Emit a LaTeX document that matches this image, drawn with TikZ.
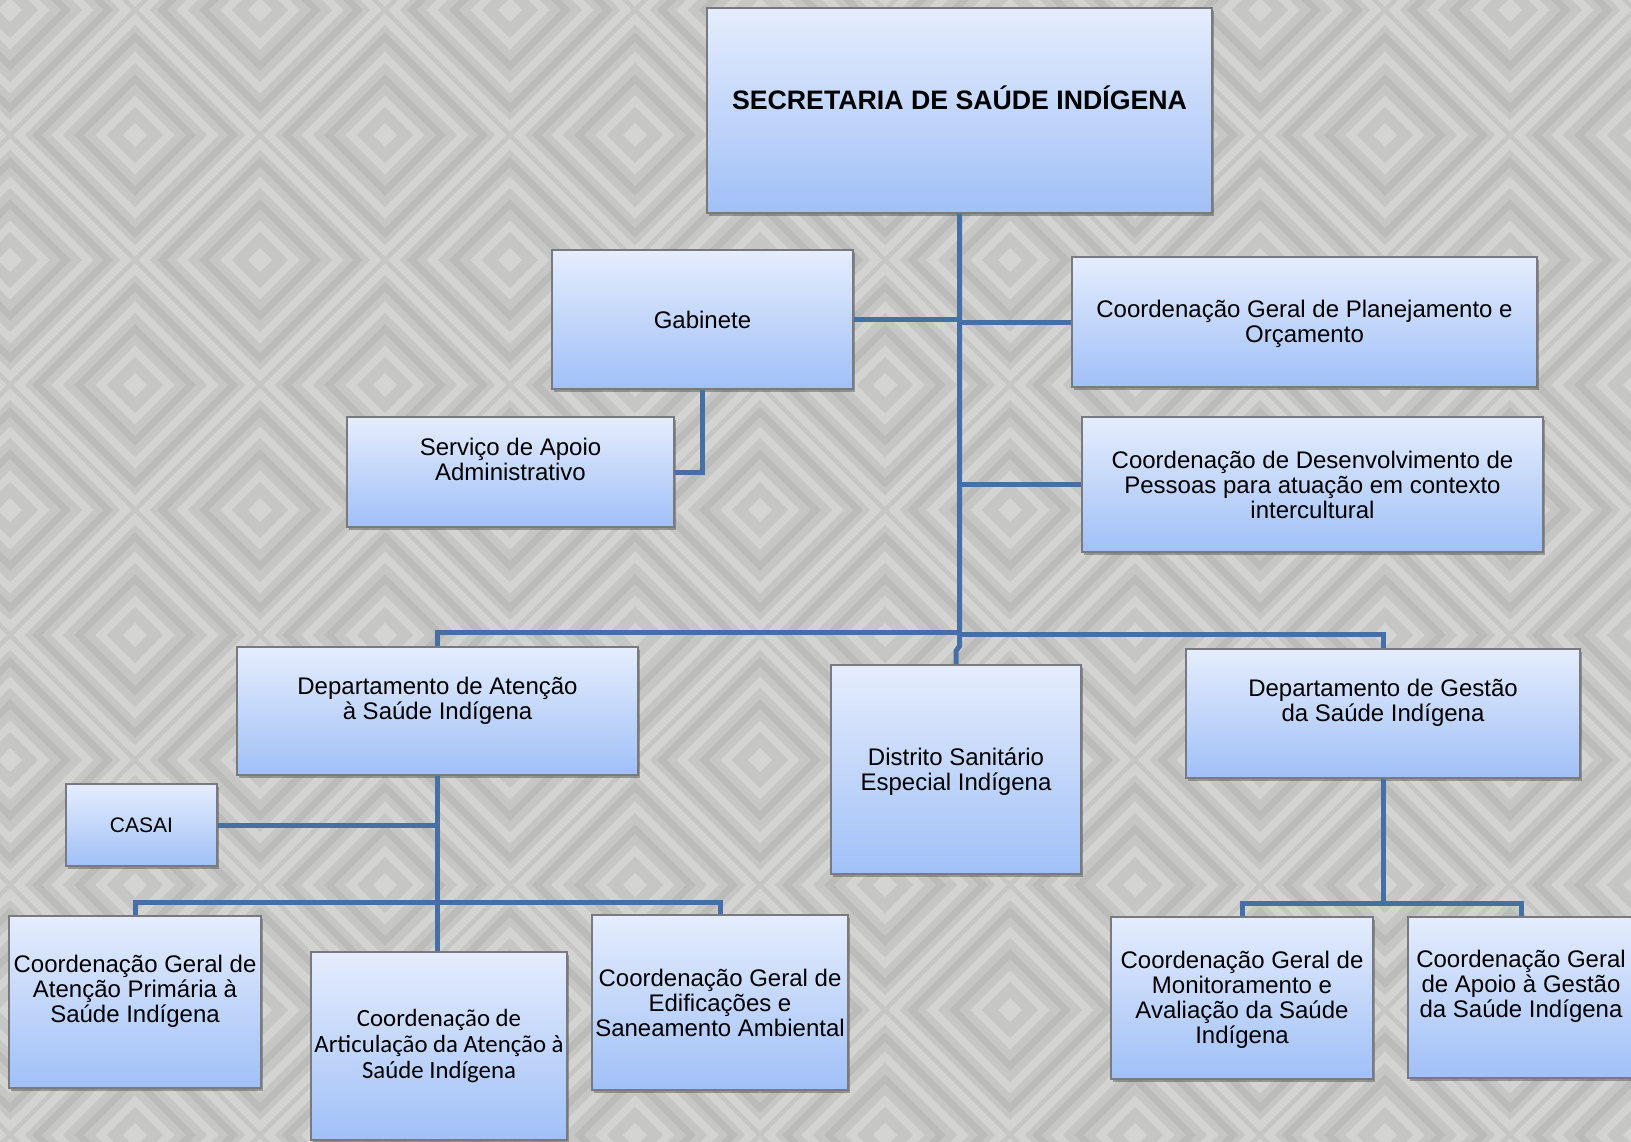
\documentclass[tikz,border=0pt]{standalone}
\usepackage{fontspec}
\setmainfont{Liberation Sans}
\newfontfamily\calib{Carlito}
\usetikzlibrary{shadows}
\definecolor{bg}{RGB}{198,198,196}
\definecolor{boxtop}{RGB}{229,237,253}
\definecolor{boxbot}{RGB}{160,192,247}
\definecolor{conn}{RGB}{70,112,165}
\definecolor{bord}{RGB}{120,122,128}
\tikzset{
  orgbox/.style 2 args={draw=bord, line width=1.6pt, top color=boxtop, bottom color=boxbot,
    minimum width=#1pt, minimum height=#2pt, inner sep=0pt,
    drop shadow={shadow xshift=2pt, shadow yshift=-3pt, opacity=.45, fill=black!70}},
  txt/.style={align=center, inner sep=0pt, text=black, font=\fontsize{24}{25}\selectfont},
  ttl/.style={align=center, inner sep=0pt, text=black, font=\bfseries\fontsize{26.7}{28}\selectfont},
  link/.style={draw=conn, line width=5pt, line join=miter},
  lite/.style={draw=white, opacity=.24, line width=8pt},
  dark/.style={draw=black, opacity=.05, line width=7pt}
}
\begin{document}
\begin{tikzpicture}[x=1pt,y=-1pt]
\useasboundingbox (0,0) rectangle (1631,1142);
\begin{scope}
\clip (0,0) rectangle (1631,1142);
\fill[bg] (0,0) rectangle (1631,1142);
\foreach \i in {-1,...,7}{
  \foreach \j in {-1,...,5}{
    \foreach \dx/\dy in {0/0,125/125}{
      \begin{scope}[shift={(\i*250+\dx+10,\j*250+\dy+10)}]
        \draw[lite] (-116,0) -- (0,-116) -- (116,0) -- (0,116) -- cycle;
        \draw[dark] (-98,0) -- (0,-98) -- (98,0) -- (0,98) -- cycle;
        \draw[lite] (-78,0) -- (0,-78) -- (78,0) -- (0,78) -- cycle;
        \draw[dark] (-56,0) -- (0,-56) -- (56,0) -- (0,56) -- cycle;
        \draw[lite] (-34,0) -- (0,-34) -- (34,0) -- (0,34) -- cycle;
        \fill[white, opacity=.25] (-12,0) -- (0,-12) -- (12,0) -- (0,12) -- cycle;
      \end{scope}
    }
  }
}
\end{scope}

% boxes
\node[orgbox={505}{205}] (top) at (959.5,110.5) {};
\node[orgbox={301}{139}] (gab) at (702.5,319.5) {};
\node[orgbox={465}{130}] (plan) at (1304.5,322) {};
\node[orgbox={327}{110}] (serv) at (510.5,472) {};
\node[orgbox={461}{135}] (desenv) at (1312.5,484.5) {};
\node[orgbox={401}{128}] (deptA) at (437.5,711) {};
\node[orgbox={250}{209}] (distr) at (956,769.5) {};
\node[orgbox={394}{129}] (deptG) at (1383,713.5) {};
\node[orgbox={151}{82}] (casai) at (141.5,825) {};
\node[orgbox={252}{172}] (prim) at (135,1002) {};
\node[orgbox={256}{188}] (artic) at (439,1046) {};
\node[orgbox={256}{175}] (edif) at (720,1002.5) {};
\node[orgbox={262}{162}] (monit) at (1242,998) {};
\node[orgbox={226}{161}] (apoio) at (1521,997.5) {};

% connectors
\coordinate (jn) at (959.5,632);
\draw[link] (top.south) -- (959.5,646) -- (956,651) -- (distr.north);
\draw[link] (gab.east) -- (gab.east -| top.south);
\draw[link] (plan.west) -- (plan.west -| top.south);
\draw[link] (desenv.west) -- (desenv.west -| top.south);
\draw[link] (gab.south) |- (serv.east);
\draw[link] (jn) -| (deptA.north);
\draw[link] ([yshift=-2pt]jn) -| (deptG.north);
\coordinate (ja) at (437.5,902);
\draw[link] (deptA.south) -- (deptA.south |- artic.north);
\draw[link] (casai.east) -- (casai.east -| deptA.south);
\draw[link] (prim.north) -- (prim.north |- ja) -- (edif.north |- ja) -- (edif.north);
\coordinate (jg) at (1383,903);
\draw[link] (deptG.south) -- (jg);
\draw[link] (monit.north) -- (monit.north |- jg) -- (apoio.north |- jg) -- (apoio.north);

% texts
\node[ttl] (ttop) at ([yshift=13pt]top.center) {SECRETARIA DE SAÚDE INDÍGENA};
\node[txt] (tgab) at (gab.center) {Gabinete};
\node[txt] (tplan) at ([yshift=-2pt]plan.center) {Coordenação Geral de Planejamento e\\Orçamento};
\node[txt] (tserv) at ([yshift=13pt]serv.center) {Serviço de Apoio\\Administrativo};
\node[txt] (tdes) at (desenv.center) {Coordenação de Desenvolvimento de\\Pessoas para atuação em contexto\\intercultural};
\node[txt] (tdeptA) at ([yshift=10pt]deptA.center) {Departamento de Atenção\\à Saúde Indígena};
\node[txt] (tdistr) at ([yshift=-2pt]distr.center) {Distrito Sanitário\\Especial Indígena};
\node[txt] (tdeptG) at ([yshift=11pt]deptG.center) {Departamento de Gestão\\da Saúde Indígena};
\node[txt, font=\fontsize{21}{23}\selectfont] (tcasai) at (casai.center) {CASAI};
\node[txt] (tprim) at ([yshift=11pt]prim.center) {Coordenação Geral de\\Atenção Primária à\\Saúde Indígena};
\node[txt, font=\calib\fontsize{24.8}{26}\selectfont] (tartic) at (artic.center) {Coordenação de\\Articulação da Atenção à\\Saúde Indígena};
\node[txt] (tedif) at (edif.center) {Coordenação Geral de\\Edificações e\\Saneamento Ambiental};
\node[txt] (tmonit) at ([yshift=-2pt]monit.center) {Coordenação Geral de\\Monitoramento e\\Avaliação da Saúde\\Indígena};
\node[txt] (tapoio) at ([yshift=11pt]apoio.center) {Coordenação Geral\\de Apoio à Gestão\\da Saúde Indígena};
\end{tikzpicture}
\end{document}
